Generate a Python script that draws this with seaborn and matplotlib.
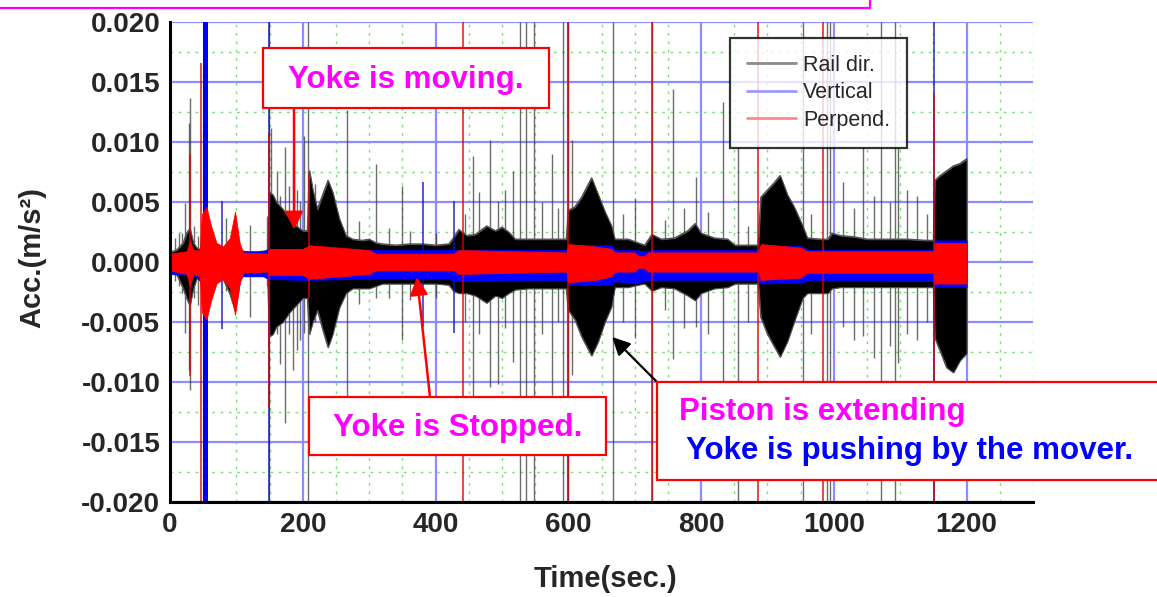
import numpy as np
import matplotlib
matplotlib.use("Agg")
import matplotlib.pyplot as plt
from matplotlib.patches import Rectangle
from matplotlib.lines import Line2D
from matplotlib.ticker import MultipleLocator, FormatStrFormatter
import seaborn as sns

# ---- envelopes of the three acceleration channels (values in 1e-3 m/s^2) ----
rail_t = [0, 10, 20, 25, 30, 35, 40, 45, 50, 55, 60, 65, 70, 80, 90, 98, 105, 110, 120, 130,
          140, 147, 150, 155, 160, 170, 180, 190, 200, 207, 210, 215, 222, 230, 238, 245, 255,
          265, 275, 290, 300, 310, 320, 340, 360, 380, 400, 420, 427, 435, 447, 460, 477, 490,
          500, 510, 520, 540, 560, 580, 597, 600, 610, 620, 635, 645, 655, 665, 670, 690, 705,
          715, 726, 740, 760, 780, 791, 800, 820, 840, 851, 870, 886, 890, 900, 910, 919, 930,
          940, 953, 960, 980, 991, 997, 1010, 1030, 1050, 1080, 1110, 1140, 1150, 1152, 1160,
          1170, 1180, 1190, 1200]
rail_hi = [0.8, 1.0, 1.6, 2.4, 2.8, 1.6, 1.2, 1.0, 1.8, 3.0, 2.2, 1.2, 1.0, 1.0, 1.6, 2.6, 1.2, 0.9, 0.8, 0.8,
           0.9, 0.9, 5.8, 5.6, 5.0, 4.4, 3.6, 3.0, 2.6, 2.6, 7.6, 6.0, 4.4, 5.6, 6.8, 5.8, 3.6,
           2.2, 1.9, 1.8, 1.9, 1.6, 1.5, 1.4, 1.5, 1.5, 1.4, 1.5, 2.0, 2.7, 2.2, 2.3, 3.0, 2.6,
           2.9, 2.5, 1.9, 1.9, 1.9, 1.9, 1.9, 4.3, 4.6, 5.4, 7.0, 5.6, 4.2, 3.0, 1.9, 1.9, 1.6,
           1.4, 2.3, 1.9, 2.0, 2.6, 3.2, 2.4, 2.0, 1.9, 1.4, 1.4, 1.4, 5.4, 6.0, 6.6, 7.2, 5.6,
           4.6, 3.0, 2.0, 1.9, 1.9, 2.4, 2.2, 2.1, 1.9, 1.9, 1.9, 1.8, 1.8, 6.8, 7.2,
           7.6, 8.0, 8.2, 8.6]
rail_lo = [-0.9, -1.0, -2.2, -3.0, -3.6, -2.2, -1.4, -1.2, -2.0, -3.5, -2.6, -1.6, -1.4, -1.4, -2.6, -4.0, -1.6, -1.1, -1.0, -1.0,
           -1.0, -1.0, -6.2, -6.0, -5.4, -5.0, -4.2, -3.6, -3.0, -3.0, -6.0, -5.0, -4.0, -5.6, -7.1, -6.0, -3.8,
           -2.6, -2.2, -2.2, -2.2, -2.0, -1.8, -1.8, -1.8, -1.8, -1.8, -1.9, -2.4, -2.6, -2.6, -2.8, -3.4, -2.8,
           -3.0, -2.6, -2.3, -2.2, -2.2, -2.2, -2.2, -4.0, -4.8, -6.2, -7.8, -6.6, -5.0, -3.7, -2.1, -2.1, -1.9,
           -1.8, -2.4, -2.1, -2.2, -2.8, -3.2, -2.6, -2.2, -2.1, -1.8, -1.8, -1.8, -4.6, -6.0, -7.0, -7.9, -6.6,
           -5.0, -3.0, -2.6, -2.6, -2.6, -2.2, -2.1, -2.1, -2.1, -2.1, -2.1, -2.1, -2.1, -6.3, -7.4,
           -8.8, -9.2, -8.2, -7.6]

vert_t = [0, 40, 50, 60, 70, 100, 140, 148, 200, 300, 310, 420, 427, 597, 600, 665, 670,
          700, 715, 726, 886, 890, 953, 960, 1150, 1152, 1200]
vert_hi = [0.7, 0.8, 1.5, 1.5, 1.0, 0.9, 0.9, 1.1, 1.1, 1.0, 1.0, 1.0, 1.0, 1.0, 1.4, 1.4, 1.0,
           1.0, 0.9, 1.0, 1.0, 1.4, 1.3, 1.0, 1.0, 1.8, 1.8]
vert_lo = [-1.0, -1.2, -2.0, -2.0, -1.3, -1.2, -1.2, -1.4, -1.5, -1.4, -1.4, -1.4, -1.6, -1.5, -1.9, -1.9, -1.6,
           -1.8, -1.6, -1.5, -1.5, -1.8, -1.7, -1.5, -1.6, -2.1, -2.1]

perp_t = [0, 25, 30, 35, 45, 48, 55, 62, 70, 80, 90, 98, 105, 110, 147, 150, 200, 210, 300,
          310, 427, 435, 597, 600, 640, 665, 670, 700, 705, 715, 720, 886, 890, 950, 960,
          1150, 1152, 1200]
perp_hi = [0.7, 0.9, 1.8, 1.0, 1.0, 4.0, 4.6, 3.0, 1.6, 1.3, 2.0, 4.2, 1.6, 0.8, 0.7, 1.1, 1.1, 1.4, 1.0,
           0.7, 0.7, 1.0, 0.8, 1.5, 1.3, 1.1, 0.8, 0.8, 0.5, 0.5, 0.8, 0.8, 1.5, 1.2, 0.9,
           0.9, 1.6, 1.6]
perp_lo = [-0.7, -1.0, -2.0, -1.0, -1.2, -4.2, -4.8, -3.2, -1.8, -1.4, -2.2, -4.4, -1.8, -0.9, -0.8, -1.1, -1.1, -1.4, -1.0,
           -0.7, -0.7, -1.0, -0.8, -1.7, -1.5, -1.2, -0.8, -0.8, -0.5, -0.5, -0.8, -0.8, -1.5, -1.3, -0.9,
           -0.9, -1.8, -1.8]

# ---- isolated impulses: time (s), peak, trough (1e-3 m/s^2) ----
rail_spk_t = [8, 14, 18, 23, 28, 30, 36, 42, 85, 120, 146, 149, 152, 161, 166, 173, 180, 186, 191,
              196, 202, 208, 218, 250, 266, 284, 311, 330, 349, 362, 400, 445, 456, 466, 482, 494,
              505, 517, 527, 537, 549, 560, 575, 585, 592, 600, 605, 625, 667, 683, 700, 726, 745,
              757, 775, 793, 810, 833, 856, 870, 905, 954, 965, 989, 994, 1014, 1030, 1044, 1060,
              1071, 1085, 1092, 1097, 1110, 1125, 1140]
rail_spk_hi = [2.0, 2.4, 2.4, 4.9, 11.6, 13.7, 3.0, 2.2, 3.7, 3.1, 3.8, 20, 11.2, 7.6, 5.5, 9.6, 6.3, 8.5, 6.0,
               5.0, 10.5, 20, 6.5, 3.5, 12.7, 3.4, 8.2, 2.8, 6.3, 2.6, 2.4, 4.0, 8.8, 5.8, 10.2, 5.1,
               6.0, 7.6, 20, 20, 20, 5.0, 9.0, 4.5, 20, 20, 10.2, 4.0, 20, 4.0, 5.3, 20, 3.5,
               14.4, 4.5, 7.1, 4.2, 13.3, 9.6, 3.0, 4.0, 20, 4.0, 20, 20, 6.7, 4.5, 9.6, 5.5,
               20, 5.0, 20, 9.6, 6.0, 5.5, 4.0]
rail_spk_lo = [-1.6, -2.0, -2.6, -5.9, -9.0, -10.7, -3.0, -3.6, -2.4, -4.6, -2.0, -20, -5.9, -6.0, -8.5, -13.4, -6.0, -9.0, -7.3,
               -6.5, -5.9, -20, -5.0, -5.0, -11.2, -3.5, -3.0, -3.0, -6.5, -3.2, -3.0, -5.0, -12.2, -6.0, -10.4, -10.2,
               -5.5, -8.3, -20, -20, -20, -6.0, -11.1, -5.0, -20, -20, -9.4, -4.0, -20, -5.0, -6.3, -20, -4.0,
               -8.1, -5.5, -5.4, -6.0, -10.7, -20, -5.0, -5.0, -20, -6.0, -20, -20, -5.4, -6.5, -6.2, -8.0,
               -20, -7.0, -20, -8.4, -6.0, -6.5, -5.0]

vert_spk_t = [78, 149, 381, 428, 1151]
vert_spk_hi = [5.1, 20, 6.7, 5.1, 20]
vert_spk_lo = [-5.6, -20, -5.4, -5.9, -20]
vert_burst_t = [50, 57]
vert_burst_hi = [20, 20]
vert_burst_lo = [-20, -20]

perp_spk_t = [30, 47, 149, 210, 442, 600, 726, 886, 984, 1151]
perp_spk_hi = [9.0, 16.6, 10.7, 7.4, 20, 20, 20, 20, 20, 14.0]
perp_spk_lo = [-9.5, -20, -12.2, -3.0, -20, -20, -20, -20, -20, -20]

series_names = ["Rail dir.", "Vertical", "Perpend."]
x_ticks = [0, 200, 400, 600, 800, 1000, 1200]

SCALE = 1e-3

W, H = 1157, 597
sns.set_theme(style="white")
plt.rcParams["font.family"] = ["Liberation Sans", "DejaVu Sans"]
plt.rcParams["axes.unicode_minus"] = False

fig = plt.figure(figsize=(W / 100, H / 100), dpi=100)
fig.patch.set_facecolor("white")

# axes area in pixels: x 170..1033, y 22..502
ax = fig.add_axes([170 / W, 1 - 502 / H, (1033 - 170) / W, (502 - 22) / H])
ax.set_xlim(0, 1300)
ax.set_ylim(-0.02, 0.02)
ax.set_facecolor("white")


def arr(v):
    return np.asarray(v, dtype=float) * SCALE


# grid: blue majors, dotted green minors
ax.xaxis.set_major_locator(MultipleLocator(200))
ax.xaxis.set_minor_locator(MultipleLocator(50))
ax.yaxis.set_major_locator(MultipleLocator(0.005))
ax.yaxis.set_minor_locator(MultipleLocator(0.0025))
ax.yaxis.set_major_formatter(FormatStrFormatter("%.3f"))
ax.set_xticks(x_ticks)
ax.grid(which="major", color="#8c8cff", linewidth=1.6, linestyle="-")
ax.grid(which="minor", color="#7de07d", linewidth=1.0, linestyle=(0, (2, 4)))
ax.set_axisbelow(True)

# rail direction channel
ax.vlines(rail_spk_t, arr(rail_spk_lo), arr(rail_spk_hi), color="#3a3a3a", alpha=0.75,
          linewidth=1.0, zorder=2)
ax.fill_between(rail_t, arr(rail_lo), arr(rail_hi), color="black", linewidth=0.8,
                edgecolor="#555555", zorder=2.2)
sns.lineplot(x=rail_t, y=arr(rail_hi), ax=ax, color="#555555", linewidth=1.0, zorder=2.1,
             estimator=None, legend=False)
sns.lineplot(x=rail_t, y=arr(rail_lo), ax=ax, color="#555555", linewidth=1.0, zorder=2.1,
             estimator=None, legend=False)

# vertical channel
ax.vlines(vert_spk_t, arr(vert_spk_lo), arr(vert_spk_hi), color="#1010c0", alpha=0.9,
          linewidth=1.1, zorder=3)
ax.fill_between(vert_burst_t, arr(vert_burst_lo), arr(vert_burst_hi), color="#0000ff",
                linewidth=0, zorder=3)
ax.fill_between(vert_t, arr(vert_lo), arr(vert_hi), color="#0000ff", linewidth=0.5, zorder=3.1)

# perpendicular channel
ax.vlines(perp_spk_t, arr(perp_spk_lo), arr(perp_spk_hi), color="#e00000", alpha=0.85,
          linewidth=1.2, zorder=4)
ax.fill_between(perp_t, arr(perp_lo), arr(perp_hi), color="#ff0000", linewidth=0.5, zorder=4.1)

# axes styling
for side in ("top", "right"):
    ax.spines[side].set_visible(False)
for side in ("left", "bottom"):
    ax.spines[side].set_color("black")
    ax.spines[side].set_linewidth(2.2)
    ax.spines[side].set_zorder(6)
ax.tick_params(axis="both", which="major", direction="in", length=9, width=1.6,
               color="black", labelsize=20, pad=7)
ax.tick_params(axis="both", which="minor", direction="in", length=6, width=1.4, color="black")
for lab in ax.get_xticklabels() + ax.get_yticklabels():
    lab.set_fontweight("bold")

ax.set_xlabel("Time(sec.)", fontsize=21, fontweight="bold")
ax.set_ylabel("Acc.(m/s²)", fontsize=21, fontweight="bold")
ax.xaxis.set_label_coords((605 - 170) / 863, (502 - 565) / 480)
ax.yaxis.set_label_coords((46 - 170) / 863, 0.51)

# legend
handles = [Line2D([], [], color=c, linewidth=2.0) for c in ("#8a8a8a", "#9a9aff", "#ff8a8a")]
leg = ax.legend(handles, series_names, loc="upper left",
                bbox_to_anchor=(730 / W, 1 - 38 / H), bbox_transform=fig.transFigure,
                fontsize=15.5, frameon=True, fancybox=False, handlelength=2.3,
                handletextpad=0.3, labelspacing=0.3, borderpad=0.78, borderaxespad=0)
leg.get_frame().set_edgecolor("black")
leg.get_frame().set_linewidth(1.6)
leg.set_zorder(10)


def fx(px):
    return px / W


def fy(py):
    return 1 - py / H


# note boxes (figure pixels, origin top-left)
def note_box(x0, y0, x1, y1):
    fig.add_artist(Rectangle((fx(x0), fy(y1)), fx(x1) - fx(x0), fy(y0) - fy(y1),
                             transform=fig.transFigure, facecolor="white",
                             edgecolor="#ff0000", linewidth=1.6, zorder=20))


note_box(263, 48, 549, 108)
fig.text(fx(406), fy(80), "Yoke is moving.", color="#ff00ff", fontsize=22.5,
         fontweight="bold", ha="center", va="center", zorder=21)

note_box(309, 397, 606, 455)
fig.text(fx(458), fy(428), "Yoke is Stopped.", color="#ff00ff", fontsize=22.5,
         fontweight="bold", ha="center", va="center", zorder=21)

note_box(657, 382, 1165, 480)
fig.text(fx(679), fy(412), "Piston is extending", color="#ff00ff", fontsize=22.5,
         fontweight="bold", ha="left", va="center", zorder=21)
fig.text(fx(686), fy(451), "Yoke is pushing by the mover.", color="#0000ff", fontsize=22.5,
         fontweight="bold", ha="left", va="center", zorder=21)

# pointers from the notes to the signal
arrow_red = dict(arrowstyle="-|>,head_length=0.9,head_width=0.45", color="#ff0000",
                 linewidth=1.8, shrinkA=0, shrinkB=0)
arrow_blk = dict(arrowstyle="-|>,head_length=0.9,head_width=0.45", color="black",
                 linewidth=1.6, shrinkA=0, shrinkB=0)
ax.annotate("", xy=(187, 0.0027), xycoords="data", xytext=(fx(294), fy(108)),
            textcoords="figure fraction", arrowprops=arrow_red, zorder=15)
ax.annotate("", xy=(372, -0.00125), xycoords="data", xytext=(fx(430), fy(397)),
            textcoords="figure fraction", arrowprops=arrow_red, zorder=15)
ax.annotate("", xy=(666, -0.00625), xycoords="data", xytext=(fx(657), fy(382)),
            textcoords="figure fraction", arrowprops=arrow_blk, zorder=15)

# frame edge of the title block above
fig.add_artist(Line2D([fx(0), fx(870), fx(870)], [fy(8), fy(8), fy(-2)],
                      transform=fig.transFigure, color="#ff00ff", linewidth=1.6, zorder=20))

fig.savefig("out.png", dpi=100, facecolor="white")
